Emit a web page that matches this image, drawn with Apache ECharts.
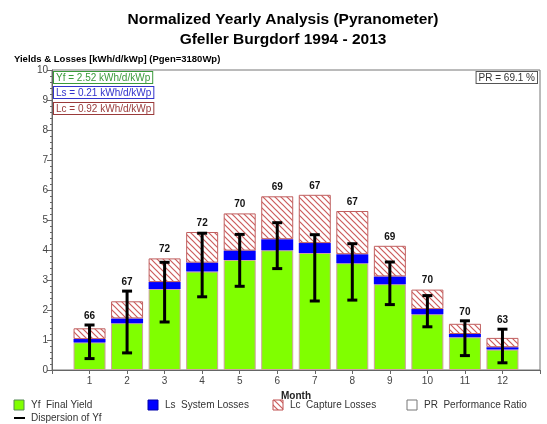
<!DOCTYPE html>
<html><head><meta charset="utf-8">
<script src="https://cdn.jsdelivr.net/npm/echarts@6/dist/echarts.min.js"></script>
<style>html,body{margin:0;padding:0;background:#fff}#c{width:547px;height:424px}</style>
</head><body><div id="c"></div>
<script>
var months = ['1','2','3','4','5','6','7','8','9','10','11','12'];
var yf = [0.92,1.56,2.70,3.28,3.67,3.99,3.90,3.56,2.86,1.86,1.09,0.68];
var ls = [0.11,0.16,0.23,0.30,0.31,0.37,0.33,0.30,0.26,0.17,0.11,0.08];
var lc = [0.36,0.57,0.79,1.02,1.24,1.43,1.61,1.44,1.02,0.65,0.34,0.31];
var errLow  = [0.38,0.57,1.60,2.44,2.79,3.38,2.30,2.33,2.18,1.44,0.48,0.24];
var errHigh = [1.50,2.63,3.59,4.56,4.52,4.91,4.51,4.21,3.60,2.48,1.64,1.36];
var pr = [66,67,72,72,70,69,67,67,69,70,70,63];
var yTicks = ['0','1','2','3','4','5','6','7','8','9','10'];

function hatch(){
  var s=6, c=document.createElement('canvas'); c.width=c.height=s;
  var g=c.getContext('2d'); g.fillStyle='#fff'; g.fillRect(0,0,s,s);
  g.strokeStyle='#cc5c5c'; g.lineWidth=1.2;
  g.beginPath(); g.moveTo(0,0); g.lineTo(s,s); g.moveTo(-1,s-1); g.lineTo(1,s+1); g.moveTo(s-1,-1); g.lineTo(s+1,1); g.stroke();
  return c;
}
var pat = {image: hatch(), repeat: 'repeat'};
var cats = [''].concat(months).concat(['']);
function pts(arr){ return arr.map(function(v,i){ return [i+1, v]; }); }
var FF = 'Liberation Sans, Arial, sans-serif';

var chart = echarts.init(document.getElementById('c'), null, {renderer:'canvas'});
var legendY = 400;
function legItem(x, fill, label, stroke){
  return [
    {type:'rect', shape:{x:x, y:legendY, width:10, height:10}, style:{fill:fill, stroke:stroke||'#888', lineWidth:1}},
    {type:'text', x:x+17, y:legendY, style:{text:label, font:'10px '+FF, fill:'#333'}}
  ];
}
var graphics = [
  {type:'text', x:283, y:12, style:{text:'Normalized Yearly Analysis (Pyranometer)', align:'center', font:'bold 15.5px '+FF, fill:'#000'}},
  {type:'text', x:283, y:32, style:{text:'Gfeller Burgdorf 1994 - 2013', align:'center', font:'bold 15.5px '+FF, fill:'#000'}},
  {type:'text', x:14, y:54, style:{text:'Yields & Losses [kWh/d/kWp] (Pgen=3180Wp)', font:'bold 9.5px '+FF, fill:'#000'}},
  {type:'text', x:54, y:72, style:{text:'Yf = 2.52 kWh/d/kWp', font:'10px '+FF, fill:'#3a9a3a', backgroundColor:'#fff', borderColor:'#3a9a3a', borderWidth:1, padding:[1,2,0,2]}},
  {type:'text', x:54, y:87, style:{text:'Ls = 0.21 kWh/d/kWp', font:'10px '+FF, fill:'#3333cc', backgroundColor:'#fff', borderColor:'#3333cc', borderWidth:1, padding:[1,2,0,2]}},
  {type:'text', x:54, y:103, style:{text:'Lc = 0.92 kWh/d/kWp', font:'10px '+FF, fill:'#9a3a3a', backgroundColor:'#fff', borderColor:'#9a3a3a', borderWidth:1, padding:[1,2,0,2]}},
  {type:'text', x:537, y:72, style:{text:'PR = 69.1 %', align:'right', font:'10px '+FF, fill:'#333', backgroundColor:'#fff', borderColor:'#555', borderWidth:1, padding:[1,2,0,2]}},
  {type:'line', shape:{x1:14, y1:418, x2:25, y2:418}, style:{stroke:'#000', lineWidth:2}},
  {type:'text', x:31, y:413, style:{text:'Dispersion of Yf', font:'10px '+FF, fill:'#333'}}
];
graphics = graphics.concat(legItem(14,'#80ff00','Yf  Final Yield','#558855'))
  .concat(legItem(148,'#0000ff','Ls  System Losses','#0000aa'))
  .concat(legItem(273,pat,'Lc  Capture Losses','#c05050'))
  .concat(legItem(407,'#fff','PR  Performance Ratio','#777'));

chart.setOption({
  animation:false,
  backgroundColor:'#fff',
  grid:{left:52, top:70, right:7, bottom:54, show:true, borderColor:'#777', borderWidth:1, backgroundColor:'#fff'},
  xAxis:{type:'category', data:cats, boundaryGap:false,
    name:'Month', nameLocation:'middle', nameGap:14, nameTextStyle:{fontFamily:FF, fontSize:10, fontWeight:'bold', color:'#222'},
    axisLine:{lineStyle:{color:'#666'}}, axisTick:{show:true, length:4, lineStyle:{color:'#666'}},
    axisLabel:{interval:0, fontFamily:FF, fontSize:10, color:'#444', margin:6}, splitLine:{show:false}},
  yAxis:{type:'value', min:0, max:10, interval:1,
    axisLine:{show:true, lineStyle:{color:'#666'}}, axisTick:{show:true, length:5, lineStyle:{color:'#666'}},
    minorTick:{show:true, splitNumber:5, length:2, lineStyle:{color:'#666'}},
    axisLabel:{fontFamily:FF, fontSize:10, color:'#444', margin:4, formatter:function(v){return yTicks[v]!==undefined?yTicks[v]:v;}}, splitLine:{show:false}},
  series:[
    {type:'bar', name:'Yf', stack:'s', barWidth:32, data:pts(yf), itemStyle:{color:'#80ff00', borderColor:'#d0a0a0', borderWidth:1}},
    {type:'bar', name:'Ls', stack:'s', barWidth:32, data:pts(ls), itemStyle:{color:'#0000ff'}},
    {type:'bar', name:'Lc', stack:'s', barWidth:32, data:pts(lc), itemStyle:{color:pat, borderColor:'#c06060', borderWidth:1}},
    {type:'custom', name:'Dispersion', data:errLow.map(function(v,i){return [i+1, v, errHigh[i], yf[i]+ls[i]+lc[i], pr[i]];}),
      encode:{x:0, y:[1,2]}, z:10,
      renderItem:function(params, api){
        var x=api.value(0), lo=api.coord([x, api.value(1)]), hi=api.coord([x, api.value(2)]);
        var top=api.coord([x, Math.max(api.value(2), api.value(3))]);
        var w=5, st={stroke:'#000', lineWidth:3};
        return {type:'group', children:[
          {type:'line', shape:{x1:lo[0], y1:lo[1], x2:hi[0], y2:hi[1]}, style:st},
          {type:'line', shape:{x1:lo[0]-w, y1:lo[1], x2:lo[0]+w, y2:lo[1]}, style:st},
          {type:'line', shape:{x1:hi[0]-w, y1:hi[1], x2:hi[0]+w, y2:hi[1]}, style:st},
          {type:'text', x:top[0], y:top[1]-4, style:{text:String(api.value(4)), align:'center', verticalAlign:'bottom', font:'bold 10px '+FF, fill:'#111'}}
        ]};
      }}
  ],
  graphic:graphics
});
</script></body></html>
